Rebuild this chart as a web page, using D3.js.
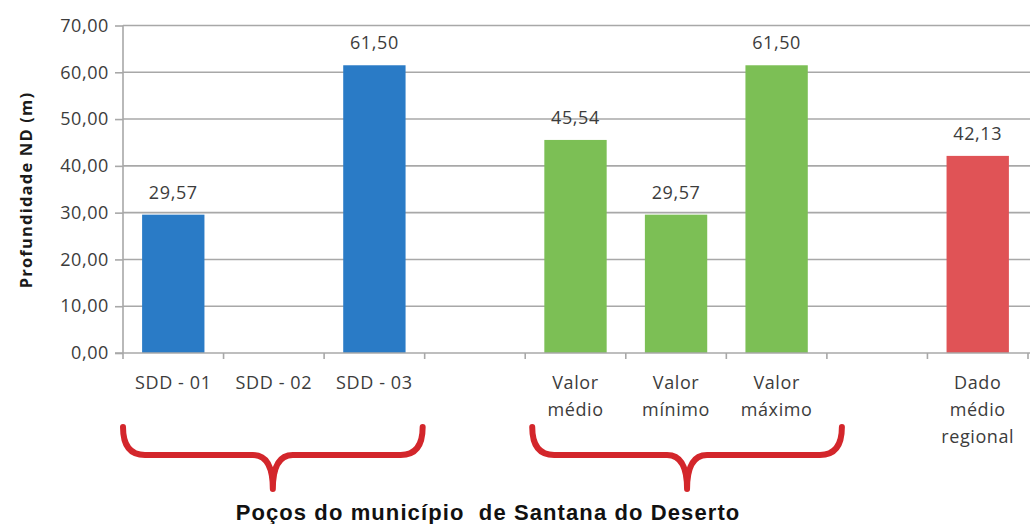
<!DOCTYPE html>
<html>
<head>
<meta charset="utf-8">
<script src="https://cdn.jsdelivr.net/npm/d3@7"></script>
<style>
  html, body { margin: 0; padding: 0; background: #fff; }
  svg { display: block; }
</style>
</head>
<body>
<svg id="chart" width="1030" height="524"></svg>
<script>
// ---- data ----
const categories = ["SDD - 01", "SDD - 02", "SDD - 03", "gap1", "Valor médio", "Valor mínimo", "Valor máximo", "gap2", "Dado médio regional"];
const categoryLines = [["SDD - 01"], ["SDD - 02"], ["SDD - 03"], [], ["Valor", "médio"], ["Valor", "mínimo"], ["Valor", "máximo"], [], ["Dado", "médio", "regional"]];
const values = [29.57, null, 61.50, null, 45.54, 29.57, 61.50, null, 42.13];
const groups = ["poco", "poco", "poco", "none", "stat", "stat", "stat", "none", "regional"];
const yTicks = [0, 10, 20, 30, 40, 50, 60, 70];
const yTitle = "Profundidade ND (m)";
const groupTitle = "Poços do município  de Santana do Deserto";
const braceGroups = [["SDD - 01", "SDD - 03"], ["Valor médio", "Valor máximo"]];

// ---- setup ----
const colors = { poco: "#2a7bc6", stat: "#7cbf55", regional: "#e05356" };
const locale = d3.formatLocale({ decimal: ",", thousands: ".", grouping: [3], currency: ["R$", ""] });
const fmt = locale.format(".2f");

const svg = d3.select("#chart");
const pLeft = 123, pRight = 1028, pTop = 25.5, pBottom = 353;

const x = d3.scaleBand().domain(categories).range([pLeft, pRight]).paddingInner(0.38).paddingOuter(0.19);
const y = d3.scaleLinear().domain([0, 70]).range([pBottom, pTop]);

const textColor = "#3c3c3c";
const gridColor = "#a8a8a8";
const fontFam = "'Open Sans', 'DejaVu Sans', sans-serif";

// gridlines
svg.append("g").selectAll("line").data(yTicks.filter(d => d > 0)).join("line")
  .attr("x1", pLeft).attr("x2", 1030)
  .attr("y1", d => y(d)).attr("y2", d => y(d))
  .attr("stroke", gridColor).attr("stroke-width", 1.6);

// y axis
const yAxis = svg.append("g").attr("transform", `translate(${pLeft},0)`)
  .call(d3.axisLeft(y).tickValues(yTicks).tickFormat(fmt).tickSize(8).tickPadding(6));
yAxis.select(".domain").attr("stroke", gridColor).attr("stroke-width", 1.6).attr("d", `M0,${y(70)}V${y(0)}`);
yAxis.selectAll(".tick line").attr("stroke", gridColor).attr("stroke-width", 1.6);
yAxis.selectAll(".tick text").attr("fill", textColor).style("font-family", fontFam).style("font-size", "18px").style("letter-spacing", "0.6px");

// bars
const data = categories.map((c, i) => ({ c, v: values[i], g: groups[i], lines: categoryLines[i] }));
svg.append("g").selectAll("rect").data(data.filter(d => d.v != null)).join("rect")
  .attr("x", d => x(d.c)).attr("width", x.bandwidth())
  .attr("y", d => y(d.v)).attr("height", d => y(0) - y(d.v))
  .attr("fill", d => colors[d.g]);

// x axis line + ticks at category boundaries
const step = x.step();
const gap = step - x.bandwidth();
svg.append("line").attr("x1", pLeft - 8).attr("x2", 1030).attr("y1", y(0)).attr("y2", y(0))
  .attr("stroke", gridColor).attr("stroke-width", 1.6);
const boundaries = categories.map(c => x(c) - gap / 2).concat([x(categories[categories.length - 1]) + x.bandwidth() + gap / 2]);
svg.append("g").selectAll("line").data(boundaries).join("line")
  .attr("x1", d => d).attr("x2", d => d).attr("y1", y(0)).attr("y2", y(0) + 6)
  .attr("stroke", gridColor).attr("stroke-width", 1.6);

// category labels
const cl = svg.append("g").selectAll("text").data(data).join("text")
  .attr("text-anchor", "middle").attr("fill", textColor)
  .style("font-family", fontFam).style("font-size", "18px").style("letter-spacing", "0.6px")
  .attr("transform", d => `translate(${x(d.c) + x.bandwidth() / 2},389)`);
cl.selectAll("tspan").data(d => d.lines).join("tspan")
  .attr("x", 0).attr("y", (d, i) => i * 27).text(d => d);

// value labels
svg.append("g").selectAll("text").data(data.filter(d => d.v != null)).join("text")
  .attr("x", d => x(d.c) + x.bandwidth() / 2).attr("y", d => y(d.v) - 16)
  .attr("text-anchor", "middle").attr("fill", textColor)
  .style("font-family", fontFam).style("font-size", "18px").style("letter-spacing", "0.6px")
  .text(d => fmt(d.v));

// y title
svg.append("text").attr("transform", `translate(32,190) rotate(-90)`)
  .attr("text-anchor", "middle").attr("fill", "#1a1a1a")
  .style("font-family", fontFam).style("font-size", "16.5px").style("font-weight", "bold").style("letter-spacing", "1.2px")
  .text(yTitle);

// braces
const braceTop = 427, braceH = 455, braceTip = 489;
const braceOffsets = [[0, -2], [7, 15]];
function bracePath(x0, x1) {
  const xm = (x0 + x1) / 2, r = 22, r2 = 20;
  return `M${x0},${braceTop} Q${x0},${braceH} ${x0 + r},${braceH} L${xm - r2},${braceH} Q${xm},${braceH} ${xm},${braceTip} Q${xm},${braceH} ${xm + r2},${braceH} L${x1 - r},${braceH} Q${x1},${braceH} ${x1},${braceTop}`;
}
svg.append("g").selectAll("path").data(braceGroups).join("path")
  .attr("d", (g, i) => bracePath(x(g[0]) - gap / 2 + braceOffsets[i][0], x(g[1]) + x.bandwidth() + gap / 2 + braceOffsets[i][1]))
  .attr("fill", "none").attr("stroke", "#d3262b").attr("stroke-width", 6).attr("stroke-linecap", "round").attr("stroke-linejoin", "round");

// group title
svg.append("text").attr("x", 488).attr("y", 520).attr("text-anchor", "middle").attr("fill", "#111")
  .style("font-family", "'Liberation Sans', Arial, sans-serif").style("font-size", "22px").style("font-weight", "bold").style("letter-spacing", "1.1px")
  .style("white-space", "pre")
  .text(groupTitle);
</script>
</body>
</html>
